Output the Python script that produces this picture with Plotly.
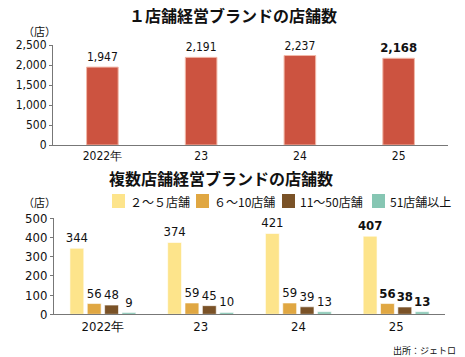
import plotly.graph_objects as go

years = ["2022年", "23", "24", "25"]
single_store = [1947, 2191, 2237, 2168]

multi_names = ["２～５店舗", "６～10店舗", "11～50店舗", "51店舗以上"]
multi_values = [
    [344, 374, 421, 407],
    [56, 59, 59, 56],
    [48, 45, 39, 38],
    [9, 10, 13, 13],
]
multi_colors = ["#FDE48B", "#E0A742", "#7A5227", "#86C6B3"]

title_top = "１店舗経営ブランドの店舗数"
title_bottom = "複数店舗経営ブランドの店舗数"
unit = "（店）"
source = "出所：ジェトロ"

NUM = "DejaVu Sans Condensed, Roboto, sans-serif"
JP = "Noto Sans CJK JP, sans-serif"

W, H = 465, 357

def fmt(v, bold):
    s = f"{v:,}"
    return f"<b>{s}</b>" if bold else s

last = len(years) - 1

fig = go.Figure()

fig.add_trace(go.Bar(
    x=years, y=single_store, xaxis="x", yaxis="y",
    marker=dict(color="#CC5340", line=dict(color="#F2B8A8", width=1)),
    width=0.32,
    text=[fmt(v, i == last) for i, v in enumerate(single_store)],
    textposition="outside", cliponaxis=False, constraintext="none",
    textfont=dict(family=NUM, size=[13 if i == last else 12 for i in range(len(years))],
                  color="#111"),
    showlegend=False, hoverinfo="skip",
))

for name, vals, col in zip(multi_names, multi_values, multi_colors):
    fig.add_trace(go.Bar(
        x=years, y=vals, name=name, xaxis="x2", yaxis="y2",
        marker=dict(color=col, line=dict(color="rgba(255,255,255,0.6)", width=1)),
        text=[fmt(v, i == last) for i, v in enumerate(vals)],
        textposition="outside", cliponaxis=False, constraintext="none",
        textfont=dict(family=NUM, size=13, color="#111"),
        showlegend=False, hoverinfo="skip",
    ))

axis_common = dict(showgrid=False, zeroline=False, showline=True, linecolor="#777",
                   linewidth=1, automargin=False, fixedrange=True)

def ann(text, x, y, size, xanchor="center"):
    return dict(text=text, x=x / W, y=1 - y / H, xref="paper", yref="paper",
                xanchor=xanchor, yanchor="middle", showarrow=False,
                font=dict(family=JP, size=size, color="#111"))

annotations = [
    ann(f"<b>{title_top}</b>", 233, 15, 16),
    ann(f"<b>{title_bottom}</b>", 221, 178, 16),
    ann(unit, 39, 31, 11),
    ann(unit, 39, 202, 11),
    ann(source, 458, 350, 9, xanchor="right"),
]

# manual legend (layout decoration)
legend_x = [112, 196, 282, 372]
legend_y = 201
shapes = []
for lx, name, col in zip(legend_x, multi_names, multi_colors):
    shapes.append(dict(type="rect", xref="paper", yref="paper",
                       x0=lx / W, x1=(lx + 13) / W,
                       y0=1 - (legend_y + 7) / H, y1=1 - (legend_y - 7) / H,
                       fillcolor=col, line=dict(width=0)))
    annotations.append(ann(name, lx + 16, legend_y, 12, xanchor="left"))

fig.update_layout(
    width=W, height=H,
    margin=dict(l=0, r=0, t=0, b=0, autoexpand=False),
    paper_bgcolor="white", plot_bgcolor="white",
    bargap=0.29, bargroupgap=0.2,
    barmode="group", showlegend=False,
    xaxis=dict(domain=[53 / W, 448 / W], anchor="y", ticks="",
               tickfont=dict(family=NUM, size=12, color="#111"), **axis_common),
    yaxis=dict(domain=[1 - 145 / H, 1 - 45 / H], anchor="x", range=[0, 2500], dtick=500,
               tickformat=",d", ticks="outside", ticklen=3, tickcolor="#777",
               tickfont=dict(family=NUM, size=12, color="#111"), **axis_common),
    xaxis2=dict(domain=[54 / W, 445 / W], anchor="y2", ticks="",
                tickfont=dict(family=NUM, size=13, color="#111"), **axis_common),
    yaxis2=dict(domain=[1 - 314.3 / H, 1 - 218.3 / H], anchor="x2", range=[0, 500], dtick=100,
                ticks="outside", ticklen=3, tickcolor="#777",
                tickfont=dict(family=NUM, size=13, color="#111"), **axis_common),
    annotations=annotations,
    shapes=shapes,
)

fig.write_html("out.html", config={"displayModeBar": False},
               post_script="document.body.style.margin='0';document.body.style.overflow='hidden';")
